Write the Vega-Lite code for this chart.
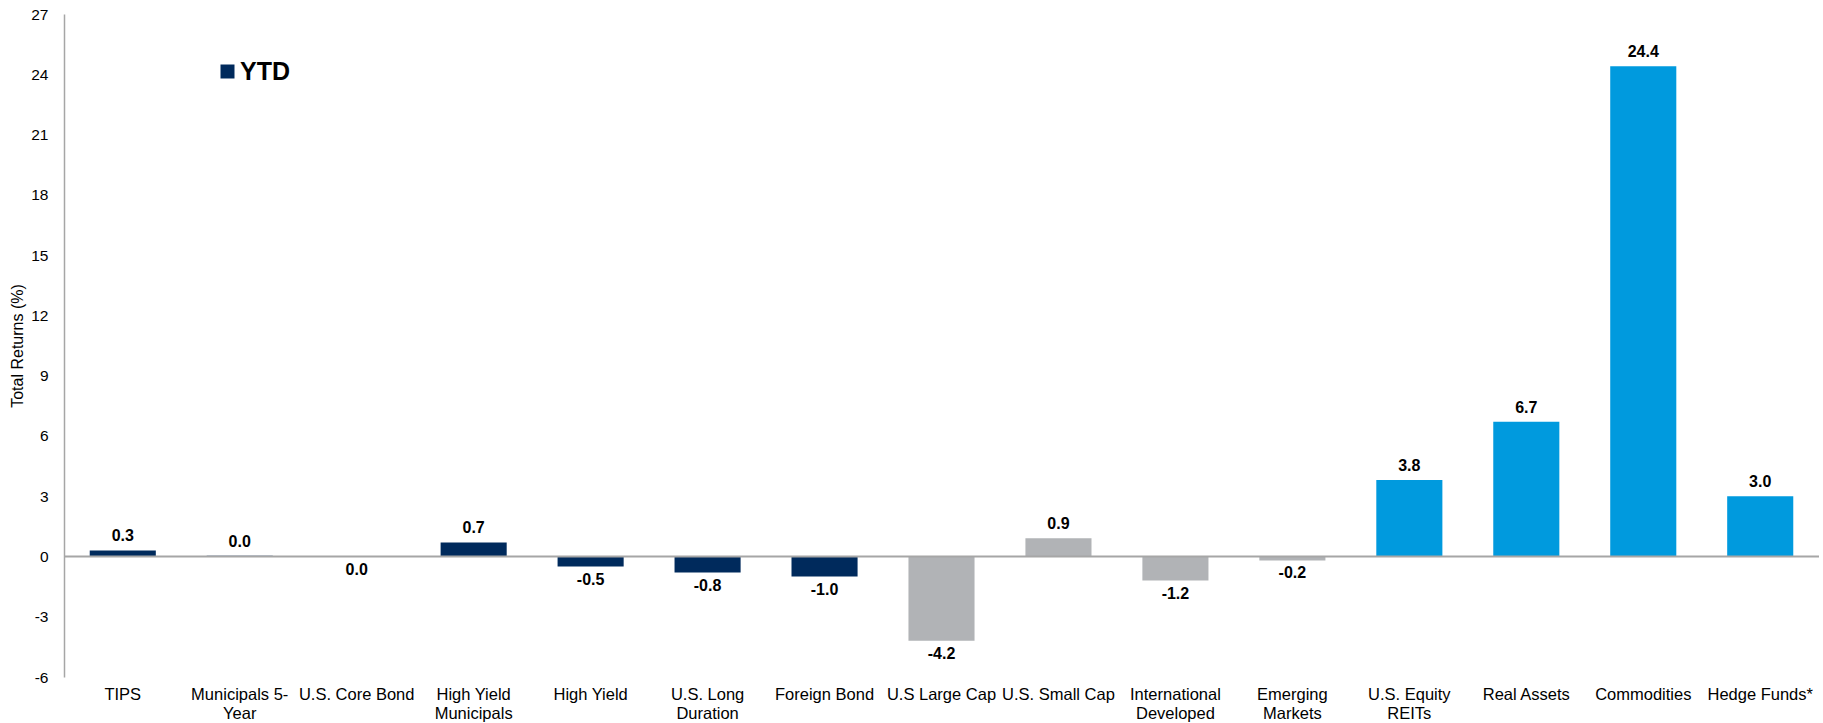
{
  "$schema": "https://vega.github.io/schema/vega-lite/v6.json",
  "width": 1755,
  "height": 663,
  "autosize": {"type": "none"},
  "padding": {"left": 64, "top": 14, "right": 4, "bottom": 46},
  "background": "white",
  "config": {
    "view": {"stroke": null},
    "font": "Liberation Sans",
    "locale": {"number": {"decimal": ".", "thousands": ",", "grouping": [3], "currency": ["$", ""], "minus": "-"}}
  },
  "data": {
    "values": [
      {"category": "TIPS", "value": 0.3, "group": "YTD"},
      {"category": "Municipals 5-|Year", "value": 0.04, "group": "YTD"},
      {"category": "U.S. Core Bond", "value": -0.03, "group": "YTD"},
      {"category": "High Yield|Municipals", "value": 0.7, "group": "YTD"},
      {"category": "High Yield", "value": -0.5, "group": "YTD"},
      {"category": "U.S. Long|Duration", "value": -0.8, "group": "YTD"},
      {"category": "Foreign Bond", "value": -1.0, "group": "YTD"},
      {"category": "U.S Large Cap", "value": -4.2, "group": "Equity"},
      {"category": "U.S. Small Cap", "value": 0.9, "group": "Equity"},
      {"category": "International|Developed", "value": -1.2, "group": "Equity"},
      {"category": "Emerging|Markets", "value": -0.2, "group": "Equity"},
      {"category": "U.S. Equity|REITs", "value": 3.8, "group": "Real"},
      {"category": "Real Assets", "value": 6.7, "group": "Real"},
      {"category": "Commodities", "value": 24.4, "group": "Real"},
      {"category": "Hedge Funds*", "value": 3.0, "group": "Real"}
    ]
  },
  "layer": [
    {
      "mark": {"type": "bar"},
      "encoding": {
        "x": {
          "field": "category", "type": "nominal", "sort": null,
          "scale": {"paddingInner": 0.435, "paddingOuter": 0.22},
          "axis": {
            "title": null, "domain": false, "ticks": false, "labelAngle": 0,
            "labelFontSize": 16.5, "labelColor": "#000", "labelPadding": 9,
            "labelExpr": "split(datum.label, '|')", "labelLimit": 0,
            "labelOverlap": false, "labelLineHeight": 19
          }
        },
        "y": {
          "field": "value", "type": "quantitative",
          "scale": {"domain": [-6, 27], "nice": false, "zero": false},
          "axis": {
            "title": "Total Returns (%)",
            "values": [-6, -3, 0, 3, 6, 9, 12, 15, 18, 21, 24, 27],
            "grid": false, "ticks": false,
            "domainColor": "#a6a6a6", "domainWidth": 1.5,
            "labelFontSize": 15.5, "labelColor": "#000", "labelPadding": 16,
            "titleFontSize": 16, "titleFontWeight": "normal", "titleColor": "#000",
            "titlePadding": 5
          }
        },
        "color": {
          "field": "group", "type": "nominal",
          "scale": {"domain": ["YTD", "Equity", "Real"], "range": ["#002A5C", "#B1B3B6", "#009ADE"]},
          "legend": {
            "values": ["YTD"], "title": null, "orient": "none",
            "legendX": 151, "legendY": 45,
            "symbolType": "square", "symbolSize": 196, "symbolStrokeWidth": 0,
            "labelFontSize": 25, "labelFontWeight": "bold", "labelColor": "#000",
            "labelOffset": 0
          }
        }
      }
    },
    {
      "data": {"values": [{"zero": 0}]},
      "mark": {"type": "rule", "color": "#a6a6a6", "strokeWidth": 2},
      "encoding": {"y": {"field": "zero", "type": "quantitative"}}
    },
    {
      "transform": [{"filter": "datum.value >= 0"}],
      "mark": {"type": "text", "baseline": "bottom", "dy": -6, "fontSize": 16, "fontWeight": "bold", "color": "#000"},
      "encoding": {
        "x": {"field": "category", "type": "nominal", "sort": null},
        "y": {"field": "value", "type": "quantitative"},
        "text": {"field": "value", "type": "quantitative", "format": ".1f"}
      }
    },
    {
      "transform": [{"filter": "datum.value < 0"}],
      "mark": {"type": "text", "baseline": "top", "dy": 5, "fontSize": 16, "fontWeight": "bold", "color": "#000"},
      "encoding": {
        "x": {"field": "category", "type": "nominal", "sort": null},
        "y": {"field": "value", "type": "quantitative"},
        "text": {"field": "value", "type": "quantitative", "format": ".1f"}
      }
    }
  ]
}
